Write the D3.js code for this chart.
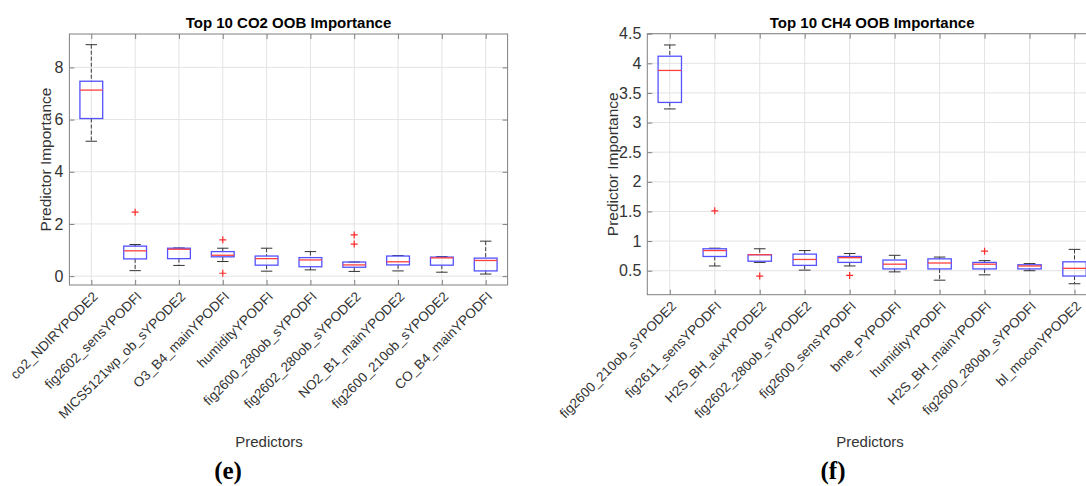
<!DOCTYPE html>
<html>
<head>
<meta charset="utf-8">
<script src="https://cdn.jsdelivr.net/npm/d3@7"></script>
<style>
  body { margin: 0; background: #fff; }
  svg { display: block; font-family: "Liberation Sans", Arial, sans-serif; }
</style>
</head>
<body>
<div id="chart-area"></div>
<script>
// ---- CO2 panel (e) ----
const co2Names = ["co2_NDIRYPODE2", "fig2602_sensYPODFI", "MICS5121wp_ob_sYPODE2", "O3_B4_mainYPODFI",
  "humidityYPODFI", "fig2600_280ob_sYPODFI", "fig2602_280ob_sYPODE2", "NO2_B1_mainYPODE2",
  "fig2600_210ob_sYPODE2", "CO_B4_mainYPODFI"];
const co2Low    = [5.17, 0.21, 0.41, 0.56, 0.19, 0.24, 0.18, 0.20, 0.15, 0.08];
const co2Q1     = [6.04, 0.66, 0.67, 0.74, 0.42, 0.36, 0.34, 0.43, 0.42, 0.20];
const co2Median = [7.13, 0.97, 1.03, 0.80, 0.67, 0.62, 0.43, 0.55, 0.70, 0.60];
const co2Q3     = [7.47, 1.15, 1.07, 0.94, 0.77, 0.71, 0.54, 0.77, 0.73, 0.69];
const co2High   = [8.87, 1.21, 1.08, 1.07, 1.07, 0.94, 0.54, 0.79, 0.75, 1.34];
const co2Outliers = [[], [2.45], [], [1.39, 0.11], [], [], [1.58, 1.23], [], [], []];
const co2Ticks = [0, 2, 4, 6, 8];

// ---- CH4 panel (f) ----
const ch4Names = ["fig2600_210ob_sYPODE2", "fig2611_sensYPODFI", "H2S_BH_auxYPODE2", "fig2602_280ob_sYPODE2",
  "fig2600_sensYPODFI", "bme_PYPODFI", "humidityYPODFI", "H2S_BH_mainYPODFI",
  "fig2600_280ob_sYPODFI", "bl_moconYPODE2"];
const ch4Low    = [3.23, 0.58, 0.64, 0.51, 0.58, 0.48, 0.34, 0.43, 0.50, 0.28];
const ch4Q1     = [3.34, 0.74, 0.66, 0.59, 0.64, 0.53, 0.53, 0.53, 0.53, 0.41];
const ch4Median = [3.88, 0.84, 0.77, 0.69, 0.72, 0.61, 0.63, 0.61, 0.58, 0.54];
const ch4Q3     = [4.12, 0.87, 0.77, 0.78, 0.74, 0.68, 0.70, 0.64, 0.60, 0.65];
const ch4High   = [4.31, 0.88, 0.87, 0.84, 0.79, 0.76, 0.73, 0.67, 0.62, 0.86];
const ch4Outliers = [[], [1.51], [0.41], [], [0.42], [], [], [0.83], [], []];
const ch4Ticks = [0.5, 1, 1.5, 2, 2.5, 3, 3.5, 4, 4.5];

const svg = d3.select("#chart-area")
  .append("svg")
    .attr("width", 1086)
    .attr("height", 486);

svg.append("rect").attr("width", 1086).attr("height", 486).attr("fill", "#fff");

const textColor = "#333";
const axisColor = "#808080";

function drawPanel(p) {
  const g = svg.append("g");
  const n = p.names.length;

  const x = d3.scaleLinear().domain([0.5, n + 0.5]).range([p.left, p.right]);
  const y = d3.scaleLinear().domain(p.yDomain).range([p.bottom, p.top]);
  const step = x(2) - x(1);
  const boxW = step * 0.52;
  const idx = d3.range(1, n + 1);

  // grid
  g.selectAll(".ygrid").data(p.ticks).enter().append("line")
    .attr("x1", p.left).attr("x2", p.right)
    .attr("y1", d => y(d)).attr("y2", d => y(d))
    .attr("stroke", "#e3e3e3").attr("stroke-width", 1);
  g.selectAll(".xgrid").data(idx).enter().append("line")
    .attr("x1", d => x(d)).attr("x2", d => x(d))
    .attr("y1", p.top).attr("y2", p.bottom)
    .attr("stroke", "#e3e3e3").attr("stroke-width", 1);

  // axes via d3 axis generators (ticks pointing inward)
  const yAxis = d3.axisLeft(y).tickValues(p.ticks).tickSize(-5).tickPadding(6)
    .tickFormat(d3.format(""));
  g.append("g").attr("transform", "translate(" + p.left + ",0)").call(yAxis)
    .call(a => a.select(".domain").remove())
    .call(a => a.selectAll("line").attr("stroke", axisColor))
    .call(a => a.selectAll("text").attr("fill", textColor).attr("font-size", "16px")
      .attr("font-family", "Liberation Sans, Arial, sans-serif"));
  const yAxisR = d3.axisRight(y).tickValues(p.ticks).tickSize(-5).tickFormat("");
  g.append("g").attr("transform", "translate(" + p.right + ",0)").call(yAxisR)
    .call(a => a.select(".domain").remove())
    .call(a => a.selectAll("line").attr("stroke", axisColor));

  const xAxis = d3.axisBottom(x).tickValues(idx).tickSize(-5).tickFormat("");
  g.append("g").attr("transform", "translate(0," + p.bottom + ")").call(xAxis)
    .call(a => a.select(".domain").remove())
    .call(a => a.selectAll("line").attr("stroke", axisColor));
  const xAxisT = d3.axisTop(x).tickValues(idx).tickSize(-5).tickFormat("");
  g.append("g").attr("transform", "translate(0," + p.top + ")").call(xAxisT)
    .call(a => a.select(".domain").remove())
    .call(a => a.selectAll("line").attr("stroke", axisColor));

  // box frame
  g.append("rect")
    .attr("x", p.left).attr("y", p.top)
    .attr("width", p.right - p.left).attr("height", p.bottom - p.top)
    .attr("fill", "none").attr("stroke", axisColor).attr("stroke-width", 1);

  // rotated category labels
  g.selectAll(".xlab").data(p.names).enter().append("text")
    .attr("transform", (d, i) => "translate(" + (x(i + 1) + 4) + "," + (p.bottom + 9) + ") rotate(-45)")
    .attr("text-anchor", "end")
    .attr("dy", "0.35em")
    .attr("font-size", "13.5px")
    .attr("fill", textColor)
    .text(d => d);

  // boxplots
  const boxes = g.selectAll(".bp").data(idx).enter().append("g");

  // whiskers (dashed)
  boxes.append("line")
    .attr("x1", d => x(d)).attr("x2", d => x(d))
    .attr("y1", d => y(p.high[d - 1])).attr("y2", d => y(p.q3[d - 1]))
    .attr("stroke", "#3a3a3a").attr("stroke-dasharray", "4,2");
  boxes.append("line")
    .attr("x1", d => x(d)).attr("x2", d => x(d))
    .attr("y1", d => y(p.q1[d - 1])).attr("y2", d => y(p.low[d - 1]))
    .attr("stroke", "#3a3a3a").attr("stroke-dasharray", "4,2");
  // caps
  boxes.append("line")
    .attr("x1", d => x(d) - boxW / 4).attr("x2", d => x(d) + boxW / 4)
    .attr("y1", d => y(p.high[d - 1])).attr("y2", d => y(p.high[d - 1]))
    .attr("stroke", "#333");
  boxes.append("line")
    .attr("x1", d => x(d) - boxW / 4).attr("x2", d => x(d) + boxW / 4)
    .attr("y1", d => y(p.low[d - 1])).attr("y2", d => y(p.low[d - 1]))
    .attr("stroke", "#333");
  // box
  boxes.append("rect")
    .attr("x", d => x(d) - boxW / 2)
    .attr("y", d => y(p.q3[d - 1]))
    .attr("width", boxW)
    .attr("height", d => y(p.q1[d - 1]) - y(p.q3[d - 1]))
    .attr("fill", "none").attr("stroke", "#5252ff").attr("stroke-width", 1.3);
  // median
  boxes.append("line")
    .attr("x1", d => x(d) - boxW / 2).attr("x2", d => x(d) + boxW / 2)
    .attr("y1", d => y(p.median[d - 1])).attr("y2", d => y(p.median[d - 1]))
    .attr("stroke", "#ff4040").attr("stroke-width", 1.3);

  // outliers as red "+"
  idx.forEach(function(d) {
    p.outliers[d - 1].forEach(function(v) {
      const cx = x(d), cy = y(v);
      g.append("path")
        .attr("d", "M" + (cx - 3.5) + "," + cy + "H" + (cx + 3.5) + "M" + cx + "," + (cy - 3.5) + "V" + (cy + 3.5))
        .attr("stroke", "#ff2a2a").attr("stroke-width", 1.2).attr("fill", "none");
    });
  });

  // title and axis labels
  g.append("text")
    .attr("x", (p.left + p.right) / 2).attr("y", p.top - 6)
    .attr("text-anchor", "middle").attr("font-size", "15px").attr("font-weight", "bold")
    .attr("fill", "#000").text(p.title);
  g.append("text")
    .attr("transform", "translate(" + p.yLabelX + "," + ((p.top + p.bottom) / 2) + ") rotate(-90)")
    .attr("text-anchor", "middle").attr("font-size", "15.5px")
    .attr("fill", textColor).text("Predictor Importance");
  g.append("text")
    .attr("x", p.xLabelX).attr("y", 447)
    .attr("text-anchor", "middle").attr("font-size", "15px")
    .attr("fill", textColor).text("Predictors");
  g.append("text")
    .attr("x", p.tagX).attr("y", 479)
    .attr("text-anchor", "middle").attr("font-size", "25px").attr("font-weight", "bold")
    .attr("font-family", "Liberation Serif, serif")
    .attr("fill", "#000").text(p.tag);
}

drawPanel({
  names: co2Names, low: co2Low, q1: co2Q1, median: co2Median, q3: co2Q3, high: co2High,
  outliers: co2Outliers, ticks: co2Ticks, yDomain: [-0.34, 9.28],
  left: 69.4, right: 507.6, top: 34, bottom: 285,
  title: "Top 10 CO2 OOB Importance", yLabelX: 51, xLabelX: 269, tagX: 228, tag: "(e)"
});

drawPanel({
  names: ch4Names, low: ch4Low, q1: ch4Q1, median: ch4Median, q3: ch4Q3, high: ch4High,
  outliers: ch4Outliers, ticks: ch4Ticks, yDomain: [0.095, 4.5],
  left: 647.3, right: 1097, top: 33.7, bottom: 294.7,
  title: "Top 10 CH4 OOB Importance", yLabelX: 618, xLabelX: 870, tagX: 833, tag: "(f)"
});
</script>
</body>
</html>
